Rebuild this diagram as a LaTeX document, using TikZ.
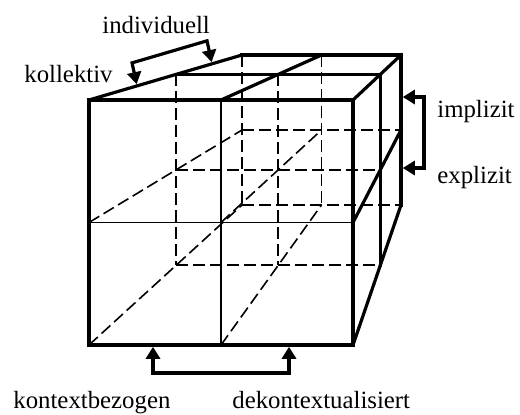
\documentclass[tikz,border=0pt]{standalone}
\usepackage{fontspec}
\setmainfont{Liberation Serif}
\usetikzlibrary{arrows.meta,calc}

\begin{document}
\begin{tikzpicture}[
  x=0.5pt,y=-0.5pt,
  font=\fontsize{12.4}{14}\selectfont,
  >={Triangle[length=6pt,width=7pt]},
  outer/.style={line width=1.6pt,line join=miter,line cap=rect},
  inner/.style={line width=0.9pt},
  hidden/.style={line width=0.8pt,dash pattern=on 6pt off 2.5pt},
  pointer/.style={<->,line width=1.6pt,shorten <=0.9pt,shorten >=0.9pt},
  lbl/.style={anchor=base west,inner sep=0pt},
]
\useasboundingbox (0,0) rectangle (520,414);

% Front face and back face corners in pixel units; the middle layer sits between them
% (0.57 of the way back, since the drawing is in perspective).
\def\depth{0.57}
\coordinate (F-tl) at (89,100);  \coordinate (F-tr) at (353,100);
\coordinate (F-bl) at (89,345);  \coordinate (F-br) at (353,345);
\coordinate (B-tl) at (242,55);  \coordinate (B-tr) at (401,55);
\coordinate (B-bl) at (242,205); \coordinate (B-br) at (401,205);

\foreach \L in {F,B}{
  \coordinate (\L-tm) at ($(\L-tl)!0.5!(\L-tr)$);
  \coordinate (\L-bm) at ($(\L-bl)!0.5!(\L-br)$);
  \coordinate (\L-lm) at ($(\L-tl)!0.5!(\L-bl)$);
  \coordinate (\L-rm) at ($(\L-tr)!0.5!(\L-br)$);
  \coordinate (\L-c)  at ($(\L-tm)!0.5!(\L-bm)$);
}
\foreach \c in {tl,tr,bl,br,tm,bm,lm,rm}{
  \coordinate (M-\c) at ($(F-\c)!\depth!(B-\c)$);
}

% ---------------- hidden edges ----------------
\foreach \L in {M,B}{
  \draw[hidden] (\L-tl) -- (\L-bl);
  \draw[hidden] (\L-tm) -- (\L-bm);
  \draw[hidden] (\L-lm) -- (\L-rm);
  \draw[hidden] (\L-bl) -- (\L-br);
}
\foreach \a/\b in {F-lm/B-lm,F-bl/B-bl,F-c/B-c,F-bm/B-bm}{\draw[hidden] (\a) -- (\b);}

% ---------------- visible edges ----------------
\draw[inner] (F-tm) -- (F-bm);
\draw[inner] (F-lm) -- (F-rm);
\foreach \a/\b in {F-tl/B-tl,F-tm/B-tm,F-tr/B-tr,F-rm/B-rm,F-br/B-br,
                   B-tl/B-tr,B-tr/B-br,M-tl/M-tr,M-tr/M-br}{\draw[outer] (\a) -- (\b);}
\draw[outer] (F-tl) rectangle (F-br);

% ---------------- dimension arrows ----------------
\coordinate (kol) at ($(F-tl)!0.314!(B-tl)$);
\coordinate (ind) at ($(F-tl)!0.804!(B-tl)$);
\draw[pointer] (kol) -- ++(-5,-23) -- ($(ind)+(-5,-23)$) -- (ind);

\coordinate (imp) at (401,97);
\coordinate (exp) at (401,168);
\draw[pointer] (imp) -- (424,97) |- (exp);

\coordinate (kon) at (153,345);
\coordinate (dek) at (289,345);
\draw[pointer] (kon) -- (153,373) -| (dek);

% ---------------- labels ----------------
\node[lbl] (l-ind) at (102,33)  {individuell};
\node[lbl] (l-kol) at (24,82)   {kollektiv};
\node[lbl] (l-imp) at (437,117) {implizit};
\node[lbl] (l-exp) at (437,183) {explizit};
\node[lbl] (l-kon) at (13,408)  {kontextbezogen};
\node[lbl] (l-dek) at (232,408) {dekontextualisiert};

\end{tikzpicture}
\end{document}
